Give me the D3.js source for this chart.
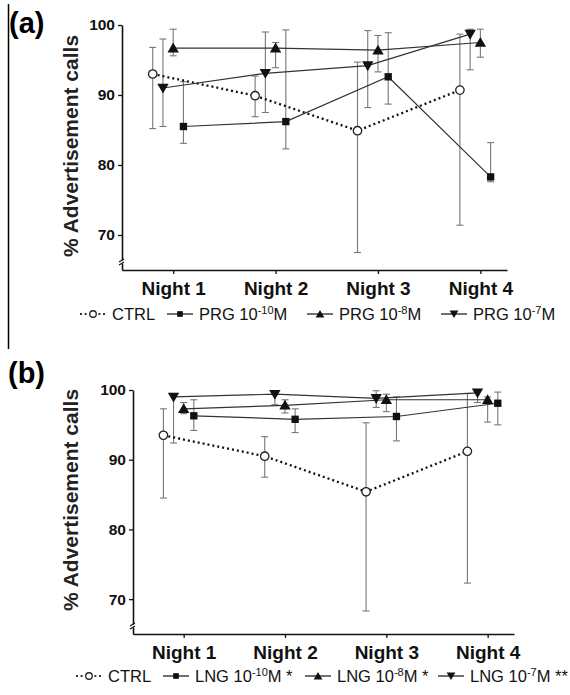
<!DOCTYPE html>
<html>
<head>
<meta charset="utf-8">
<script src="https://cdn.jsdelivr.net/npm/d3@7"></script>
<style>
  body { margin: 0; background: #fff; }
  svg { display: block; font-family: "Liberation Sans", Arial, sans-serif; }
</style>
</head>
<body>
<div id="chart"></div>
<script>
// categories and ticks
var nights = ["Night 1", "Night 2", "Night 3", "Night 4"]
var yTicks = [70, 80, 90, 100]

// panel (a) - PRG
var ctrlA = [93.0, 89.9, 84.9, 90.7]
var ctrlAHi = [96.8, 92.7, 94.7, 98.7]
var ctrlALo = [85.2, 86.9, 67.5, 71.4]
var prg10A = [85.5, 86.2, 92.6, 78.3]
var prg10AHi = [91.9, 99.3, 98.9, 83.2]
var prg10ALo = [83.1, 82.3, 88.7, 77.6]
var prg8A = [96.7, 96.7, 96.4, 97.5]
var prg8AHi = [99.4, 97.5, 98.5, 99.4]
var prg8ALo = [95.6, 93.9, 93.3, 95.4]
var prg7A = [91.0, 93.1, 94.2, 98.7]
var prg7AHi = [98.0, 99.0, 99.2, 99.4]
var prg7ALo = [85.5, 87.5, 88.2, 93.6]

// panel (b) - LNG
var ctrlB = [93.5, 90.5, 85.4, 91.2]
var ctrlBHi = [97.3, 93.3, 95.3, 99.5]
var ctrlBLo = [84.5, 87.5, 68.3, 72.3]
var lng10B = [96.3, 95.8, 96.2, 98.1]
var lng10BHi = [98.6, 97.3, 99.0, 99.7]
var lng10BLo = [94.2, 93.9, 92.7, 95.0]
var lng8B = [97.3, 97.8, 98.6, 98.6]
var lng8BHi = [98.2, 98.6, 99.4, 99.0]
var lng8BLo = [96.6, 96.7, 96.9, 95.4]
var lng7B = [99.0, 99.4, 98.8, 99.6]
var lng7BHi = [99.5, 99.7, 99.9, 99.9]
var lng7BLo = [92.4, 97.9, 97.5, 98.2]

var w = 570, h = 695

var svg = d3.select("#chart")
  .append("svg")
  .attr("width", w)
  .attr("height", h)

// left rule next to panel (a)
svg.append("line")
  .attr("x1", 8.5).attr("x2", 8.5)
  .attr("y1", 4).attr("y2", 349)
  .attr("stroke", "#000")
  .attr("stroke-width", 1.5)

function marker(g, kind, x, y, k) {
  k = k || 1
  var circle = d3.symbol().type(d3.symbolCircle).size(56 * k)
  var square = d3.symbol().type(d3.symbolSquare).size(54 * k)
  var tri = d3.symbol().type(d3.symbolTriangle).size(56 * k)
  if (kind === 'ctrl') {
    g.append("path").attr("d", circle()).attr("transform", `translate(${x},${y})`)
      .attr("fill", "#fff").attr("stroke", "#222").attr("stroke-width", 1.3)
  } else if (kind === 'sq') {
    g.append("path").attr("d", square()).attr("transform", `translate(${x},${y})`)
      .attr("fill", "#111")
  } else if (kind === 'up') {
    g.append("path").attr("d", tri()).attr("transform", `translate(${x},${y + 1})`)
      .attr("fill", "#111")
  } else {
    g.append("path").attr("d", tri()).attr("transform", `translate(${x},${y - 1}) rotate(180)`)
      .attr("fill", "#111")
  }
}

function drawPanel(opt) {
  var g = svg.append("g")

  var xScale = d3.scaleLinear()
    .domain([0.5, 4.26])
    .range([opt.left, opt.right])
  var yScale = d3.scaleLinear()
    .domain([65, 100])
    .range([opt.bottom, opt.top])

  // axes
  var xAxis = d3.axisBottom(xScale)
    .tickValues([1, 2, 3, 4])
    .tickFormat((d, i) => nights[i])
    .tickSize(4)
    .tickSizeOuter(0)
    .tickPadding(7)
  var yAxis = d3.axisLeft(yScale)
    .tickValues(yTicks)
    .tickSize(4)
    .tickSizeOuter(0)
    .tickPadding(3)

  var gx = g.append("g")
    .attr("transform", `translate(0,${opt.bottom})`)
    .call(xAxis)
  gx.select(".domain").attr("stroke", "#111").attr("stroke-width", 1.6)
  gx.selectAll(".tick line").attr("stroke", "#111").attr("stroke-width", 1.3)
  gx.selectAll(".tick text")
    .attr("fill", "#111")
    .style("font-size", "19px")
    .style("font-weight", "bold")
    .attr("dy", "0.72em")

  var gy = g.append("g")
    .attr("transform", `translate(${opt.left},0)`)
    .call(yAxis)
  gy.select(".domain").attr("stroke", "#111").attr("stroke-width", 1.6)
  gy.selectAll(".tick line").attr("stroke", "#111").attr("stroke-width", 1.3)
  gy.selectAll(".tick text")
    .attr("fill", "#111")
    .style("font-size", "15.5px")
    .style("font-weight", "bold")

  // axis break mark
  var by = opt.bottom - 7.5
  g.append("rect").attr("x", opt.left - 3).attr("y", by - 2).attr("width", 6).attr("height", 3).attr("fill", "#fff")
  g.append("path")
    .attr("d", `M${opt.left - 3},${by - 0.5} L${opt.left + 2},${by - 3.5} M${opt.left - 3},${by + 2.5} L${opt.left + 2},${by - 0.5}`)
    .attr("stroke", "#111").attr("stroke-width", 1.1).attr("fill", "none")

  // y label
  g.append("text")
    .attr("transform", `translate(${opt.labelX},${opt.labelY}) rotate(-90)`)
    .attr("text-anchor", "middle")
    .style("font-size", "21px")
    .style("font-weight", "bold")
    .attr("fill", "#222")
    .text("% Advertisement calls")

  // panel letter
  g.append("text")
    .attr("x", opt.letterX)
    .attr("y", opt.letterY)
    .style("font-size", "29px")
    .style("font-weight", "bold")
    .attr("fill", "#000")
    .text(opt.letter)

  var errG = g.append("g")
  var lineG = g.append("g")
  var markG = g.append("g")

  opt.series.forEach(function(s) {
    var xs = s.mean.map((v, i) => xScale(i + 1 + s.off))

    // error bars
    s.mean.forEach(function(v, i) {
      var x = xs[i]
      errG.append("line")
        .attr("x1", x).attr("x2", x)
        .attr("y1", yScale(s.hi[i])).attr("y2", yScale(s.lo[i]))
        .attr("stroke", "#777").attr("stroke-width", 1.1)
      ;[s.hi[i], s.lo[i]].forEach(function(e) {
        errG.append("line")
          .attr("x1", x - 3.5).attr("x2", x + 3.5)
          .attr("y1", yScale(e)).attr("y2", yScale(e))
          .attr("stroke", "#777").attr("stroke-width", 1.1)
      })
    })

    // connecting line
    var line = d3.line()
      .x((d, i) => xs[i])
      .y(d => yScale(d))
    var p = lineG.append("path")
      .datum(s.mean)
      .attr("d", line)
      .attr("fill", "none")
    if (s.kind === 'ctrl') {
      p.attr("stroke", "#111").attr("stroke-width", 2.3).attr("stroke-dasharray", "2,3")
    } else {
      p.attr("stroke", "#333").attr("stroke-width", 1.2)
    }

    s.mean.forEach(function(v, i) {
      marker(markG, s.kind, xs[i], yScale(v))
    })
  })

  // legend
  var lg = g.append("g")
  opt.series.forEach(function(s, i) {
    var lx = opt.legendX[i]
    var ly = opt.legendY
    var l = lg.append("line")
      .attr("x1", lx).attr("x2", lx + 26)
      .attr("y1", ly).attr("y2", ly)
      .attr("fill", "none")
    if (s.kind === 'ctrl') {
      l.attr("stroke", "#333").attr("stroke-width", 2.2).attr("stroke-dasharray", "2,2.6")
      lg.append("rect").attr("x", lx + 9).attr("y", ly - 4).attr("width", 8).attr("height", 8).attr("fill", "#fff")
    } else {
      l.attr("stroke", "#222").attr("stroke-width", 1.3)
    }
    marker(lg, s.kind, lx + 13, ly, 0.6)

    var t = lg.append("text")
      .attr("x", lx + 32)
      .attr("y", ly + 6)
      .style("font-size", "16.5px")
      .attr("fill", "#111")
    t.append("tspan").text(s.name)
    if (s.exp) {
      t.append("tspan").text(s.exp).attr("dy", -6).style("font-size", "11px")
      t.append("tspan").text("M" + (s.tail || "")).attr("dy", 6)
    }
  })
}

drawPanel({
  letter: "(a)", letterX: 9, letterY: 33,
  left: 122, right: 507, top: 25, bottom: 270,
  labelX: 78, labelY: 146,
  legendX: [80, 167, 307, 441], legendY: 314,
  series: [
    { kind: 'ctrl', off: -0.2, mean: ctrlA, hi: ctrlAHi, lo: ctrlALo, name: "CTRL" },
    { kind: 'sq', off: 0.1, mean: prg10A, hi: prg10AHi, lo: prg10ALo, name: "PRG 10", exp: "-10" },
    { kind: 'up', off: 0, mean: prg8A, hi: prg8AHi, lo: prg8ALo, name: "PRG 10", exp: "-8" },
    { kind: 'down', off: -0.1, mean: prg7A, hi: prg7AHi, lo: prg7ALo, name: "PRG 10", exp: "-7" }
  ]
})

drawPanel({
  letter: "(b)", letterX: 8, letterY: 383,
  left: 133, right: 514, top: 390, bottom: 634,
  labelX: 78, labelY: 500,
  legendX: [76, 163, 305, 438], legendY: 676,
  series: [
    { kind: 'ctrl', off: -0.2, mean: ctrlB, hi: ctrlBHi, lo: ctrlBLo, name: "CTRL" },
    { kind: 'sq', off: 0.1, mean: lng10B, hi: lng10BHi, lo: lng10BLo, name: "LNG 10", exp: "-10", tail: " *" },
    { kind: 'up', off: 0, mean: lng8B, hi: lng8BHi, lo: lng8BLo, name: "LNG 10", exp: "-8", tail: " *" },
    { kind: 'down', off: -0.1, mean: lng7B, hi: lng7BHi, lo: lng7BLo, name: "LNG 10", exp: "-7", tail: " **" }
  ]
})
</script>
</body>
</html>
